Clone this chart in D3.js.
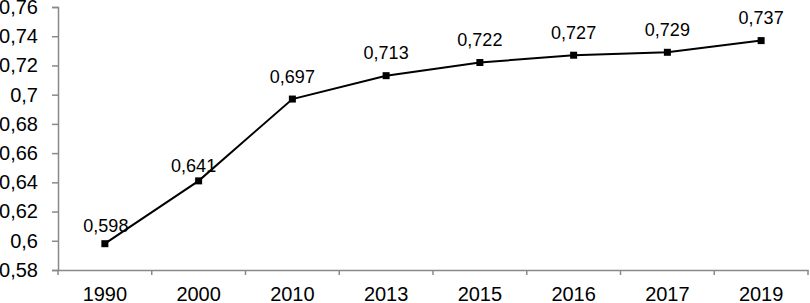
<!DOCTYPE html>
<html>
<head>
<meta charset="utf-8">
<script src="https://cdn.jsdelivr.net/npm/d3@7"></script>
<style>
  body { margin: 0; background: #fff; }
  text { font-family: "Liberation Sans", Arial, sans-serif; }
</style>
</head>
<body>
<script>
// datos del gráfico
const years = ["1990", "2000", "2010", "2013", "2015", "2016", "2017", "2019"];
const values = [0.598, 0.641, 0.697, 0.713, 0.722, 0.727, 0.729, 0.737];
const yTicks = [0.58, 0.6, 0.62, 0.64, 0.66, 0.68, 0.7, 0.72, 0.74, 0.76];

const WIDTH = 810, HEIGHT = 303;
let margin = {top: 7, right: 2, bottom: 33, left: 58},
    width = WIDTH - margin.left - margin.right,
    height = HEIGHT - margin.top - margin.bottom;

// algunas etiquetas están movidas a mano en el original
let labelNudge = {"1990": [1, 5], "2000": [-5, 8]};

let fmt = v => String(+v.toFixed(3)).replace(".", ",");

let svg = d3.select("body").append("svg")
    .attr("width", WIDTH)
    .attr("height", HEIGHT);

let chart = svg.append("g")
    .attr("transform", "translate(" + margin.left + "," + margin.top + ")");

let xScale = d3.scaleBand()
    .domain(years)
    .range([0, width]);

let yScale = d3.scaleLinear()
    .domain([0.58, 0.76])
    .range([height, 0]);

// eje y
let yAxis = chart.append("g")
    .call(d3.axisLeft(yScale).tickValues(yTicks).tickFormat(fmt).tickSize(6).tickPadding(14));

// eje x, con las marcas entre categorías
let xAxis = chart.append("g")
    .attr("transform", "translate(0," + height + ")")
    .call(d3.axisBottom(xScale).tickSize(0).tickPadding(17));

xAxis.selectAll(".sep")
    .data(years.concat(["end"]))
    .enter().append("line")
    .attr("class", "sep")
    .attr("x1", (d, i) => i * xScale.step())
    .attr("x2", (d, i) => i * xScale.step())
    .attr("y1", 0)
    .attr("y2", 5)
    .attr("stroke", "#898989")
    .attr("stroke-width", 1.5);

[yAxis, xAxis].forEach(a => {
    a.select(".domain").attr("stroke", "#898989").attr("stroke-width", 1.5);
    a.selectAll(".tick line").attr("stroke", "#898989").attr("stroke-width", 1.5);
    a.selectAll("text").attr("font-size", 20).attr("fill", "#000")
        .style("font-family", "'Liberation Sans', Arial, sans-serif");
});

let cx = (d, i) => xScale(years[i]) + xScale.bandwidth() / 2;

// línea
let line = d3.line()
    .x((d, i) => cx(d, i))
    .y(d => yScale(d));

chart.append("path")
    .datum(values)
    .attr("d", line)
    .attr("fill", "none")
    .attr("stroke", "#000")
    .attr("stroke-width", 2);

// marcadores
chart.selectAll(".marker")
    .data(values)
    .enter().append("rect")
    .attr("class", "marker")
    .attr("x", (d, i) => cx(d, i) - 3.5)
    .attr("y", d => yScale(d) - 3.5)
    .attr("width", 7)
    .attr("height", 7)
    .attr("fill", "#000");

// etiquetas de datos
chart.selectAll(".label")
    .data(values)
    .enter().append("text")
    .attr("class", "label")
    .attr("x", (d, i) => cx(d, i) + (labelNudge[years[i]] || [0, 0])[0])
    .attr("y", (d, i) => yScale(d) - 16.5 + (labelNudge[years[i]] || [0, 0])[1])
    .attr("text-anchor", "middle")
    .attr("font-size", 18)
    .text(fmt);
</script>
</body>
</html>
